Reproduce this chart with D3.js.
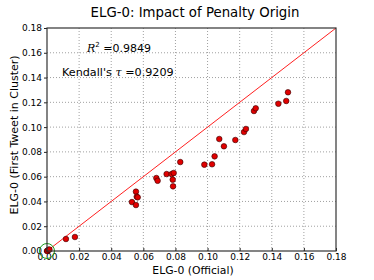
<!DOCTYPE html>
<html><head><meta charset="utf-8">
<script src="https://cdn.jsdelivr.net/npm/d3@7"></script>
<style>body{margin:0;background:#fff}svg{display:block}text{font-family:"DejaVu Sans",sans-serif}</style>
</head><body><svg id="c" width="374" height="280"></svg>
<script>
const xOfficial = [0,0.0003,0.001,0.0015,0.0118,0.0174,0.0529,0.0554,0.0559,0.0565,0.0554,0.0681,0.0689,0.0745,0.0776,0.0789,0.0783,0.0785,0.0830,0.0980,0.1028,0.1044,0.1073,0.1102,0.1173,0.1227,0.1239,0.1289,0.1300,0.1441,0.1490,0.1501];
const yFirstTweet = [0,0.0002,0.001,0.0012,0.0097,0.0113,0.0395,0.0479,0.0438,0.0433,0.0371,0.0589,0.0567,0.0621,0.0621,0.0630,0.0576,0.0522,0.0718,0.0697,0.0700,0.0764,0.0904,0.0845,0.0896,0.0960,0.0985,0.1130,0.1152,0.1189,0.1211,0.1281];
const ticks = [0,0.02,0.04,0.06,0.08,0.10,0.12,0.14,0.16,0.18];
const title = "ELG-0: Impact of Penalty Origin";
const xLabel = "ELG-0 (Official)";
const yLabel = "ELG-0 (First Tweet in Cluster)";
const r2 = "0.9849", tau = "0.9209";

const svg = d3.select("#c");
const L=47,R=336,T=28,B=251;
const x = d3.scaleLinear().domain([0,0.18]).range([L,R]);
const y = d3.scaleLinear().domain([0,0.18]).range([B,T]);

// grid
const g = svg.append("g");
g.selectAll(".gx").data(ticks.slice(1,-1)).join("line")
 .attr("x1",d=>x(d)).attr("x2",d=>x(d)).attr("y1",T).attr("y2",B)
 .attr("stroke","#888").attr("stroke-width",0.8).attr("stroke-dasharray","1,2");
g.selectAll(".gy").data(ticks.slice(1,-1)).join("line")
 .attr("y1",d=>y(d)).attr("y2",d=>y(d)).attr("x1",L).attr("x2",R)
 .attr("stroke","#888").attr("stroke-width",0.8).attr("stroke-dasharray","1,2");

// axes
const fmt = d3.format(".2f");
const xa = svg.append("g").attr("transform",`translate(0,${B})`)
 .call(d3.axisBottom(x).tickValues(ticks).tickFormat(fmt).tickSize(-3).tickPadding(6));
const ya = svg.append("g").attr("transform",`translate(${L},0)`)
 .call(d3.axisLeft(y).tickValues(ticks).tickFormat(fmt).tickSize(3).tickPadding(2));
[xa,ya].forEach(a=>{a.select(".domain").remove();
 a.selectAll("text").attr("font-size",9).attr("fill","#000").attr("font-family","DejaVu Sans");
 a.selectAll("line").attr("stroke","#222");});
xa.selectAll("text").attr("dy","0.71em").attr("y",3);

// identity line
svg.append("line").attr("x1",x(0)).attr("y1",y(0)).attr("x2",x(0.18)).attr("y2",y(0.18))
 .attr("stroke","#ff2020").attr("stroke-width",1);

// points
svg.selectAll(".pt").data(xOfficial.map((v,i)=>[v,yFirstTweet[i]])).join("circle")
 .attr("cx",d=>x(d[0])).attr("cy",d=>y(d[1])).attr("r",2.8)
 .attr("fill","#e00000").attr("stroke","#300").attr("stroke-width",0.6);

// green circle at origin
svg.append("circle").attr("cx",x(0)).attr("cy",y(0)).attr("r",7.5)
 .attr("fill","none").attr("stroke","#1a9a1a").attr("stroke-width",1);

// frame
svg.append("rect").attr("x",L).attr("y",T).attr("width",R-L).attr("height",B-T)
 .attr("fill","none").attr("stroke","#333").attr("stroke-width",1.2);

// title & labels
svg.append("text").attr("x",195).attr("y",17).attr("text-anchor","middle")
 .attr("font-size",13.3).text(title);
svg.append("text").attr("x",193).attr("y",274).attr("text-anchor","middle")
 .attr("font-size",10.8).text(xLabel);
svg.append("text").attr("transform","translate(18,135) rotate(-90)").attr("text-anchor","middle")
 .attr("font-size",11).text(yLabel);

// annotations
const t1 = svg.append("text").attr("x",87).attr("y",52).attr("font-size",11);
t1.append("tspan").attr("font-family","DejaVu Serif").attr("font-style","italic").text("R");
t1.append("tspan").attr("font-size",7).attr("dy",-5).text("2");
t1.append("tspan").attr("dy",5).text(" =" + r2);
const t2 = svg.append("text").attr("x",62).attr("y",76).attr("font-size",11.2);
t2.append("tspan").text("Kendall's ");
t2.append("tspan").attr("font-family","DejaVu Serif").attr("font-style","italic").text("τ");
t2.append("tspan").text(" =" + tau);
</script></body></html>
